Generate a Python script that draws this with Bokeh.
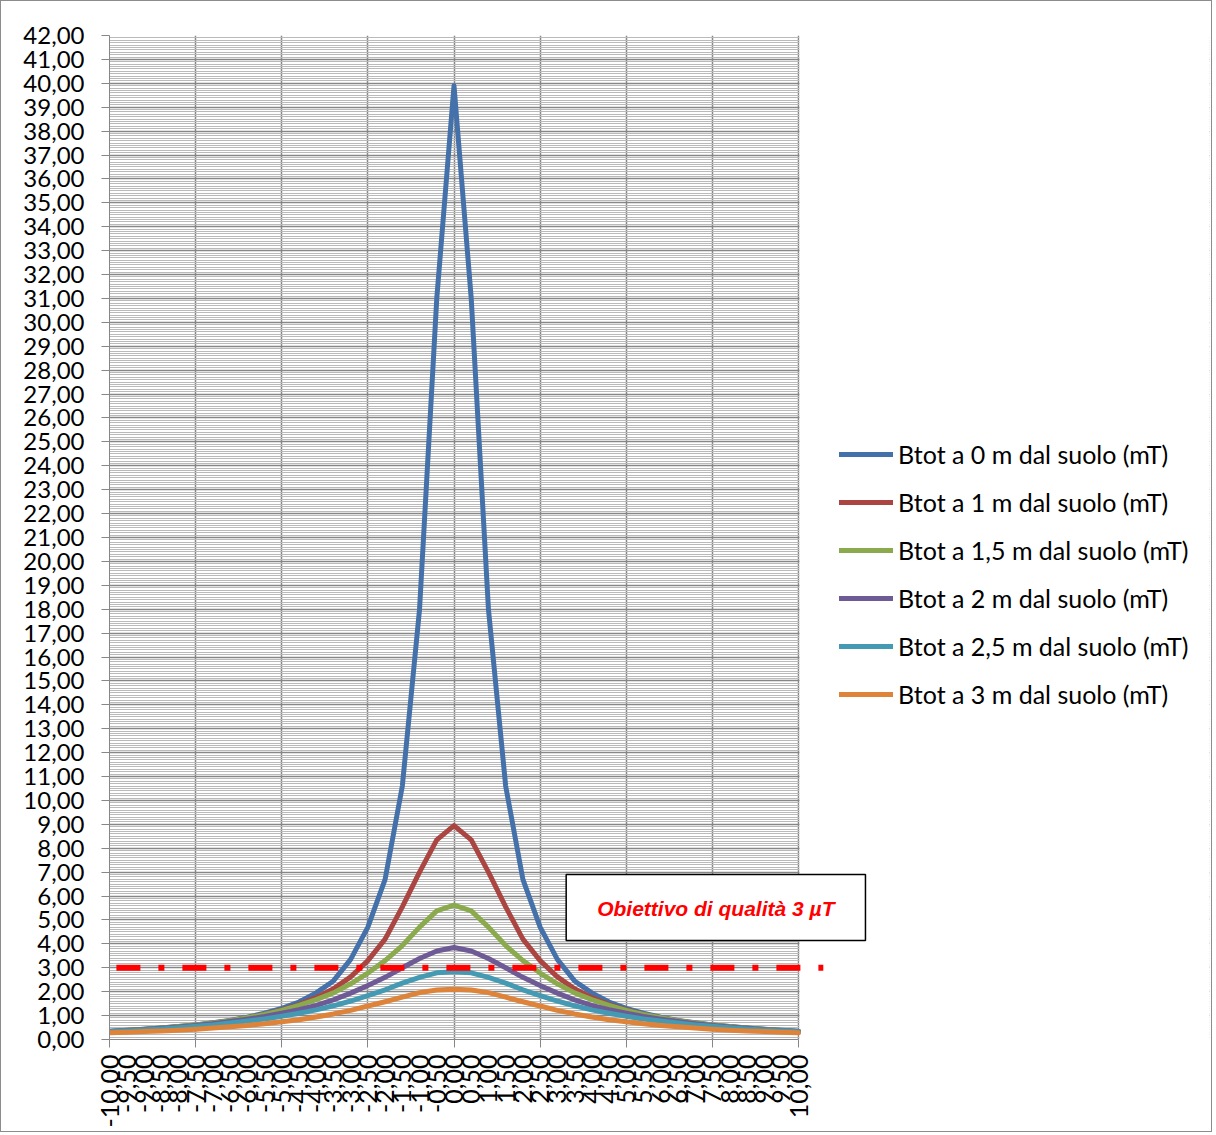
import math
from bokeh.plotting import figure
from bokeh.models import (Range1d, SingleIntervalTicker, FixedTicker, CustomJSTickFormatter,
                          Legend, LegendItem, Label, BoxAnnotation)
from bokeh.embed import file_html
from bokeh.resources import INLINE

# distance from the line axis (m) -- category labels
X = [-10.0, -9.5, -9.0, -8.5, -8.0, -7.5, -7.0, -6.5, -6.0, -5.5, -5.0, -4.5, -4.0, -3.5,
     -3.0, -2.5, -2.0, -1.5, -1.0, -0.5, 0.0, 0.5, 1.0, 1.5, 2.0, 2.5, 3.0, 3.5, 4.0, 4.5,
     5.0, 5.5, 6.0, 6.5, 7.0, 7.5, 8.0, 8.5, 9.0, 9.5, 10.0]

B_0M = [0.35, 0.39, 0.43, 0.48, 0.54, 0.61, 0.70, 0.80, 0.93, 1.10, 1.30, 1.57, 1.95, 2.45,
        3.35, 4.70, 6.70, 10.60, 18.00, 31.00, 39.90, 31.00, 18.00, 10.60, 6.70, 4.70, 3.35,
        2.45, 1.95, 1.57, 1.30, 1.10, 0.93, 0.80, 0.70, 0.61, 0.54, 0.48, 0.43, 0.39, 0.35]
B_1M = [0.34, 0.38, 0.42, 0.47, 0.53, 0.60, 0.68, 0.78, 0.90, 1.05, 1.24, 1.46, 1.75, 2.12,
        2.62, 3.30, 4.20, 5.55, 7.00, 8.35, 8.95, 8.35, 7.00, 5.55, 4.20, 3.30, 2.62, 2.12,
        1.75, 1.46, 1.24, 1.05, 0.90, 0.78, 0.68, 0.60, 0.53, 0.47, 0.42, 0.38, 0.34]
B_15M = [0.34, 0.38, 0.43, 0.48, 0.54, 0.61, 0.69, 0.79, 0.91, 1.05, 1.22, 1.43, 1.67, 1.95,
         2.33, 2.78, 3.30, 3.93, 4.70, 5.38, 5.62, 5.38, 4.70, 3.93, 3.30, 2.78, 2.33, 1.95,
         1.67, 1.43, 1.22, 1.05, 0.91, 0.79, 0.69, 0.61, 0.54, 0.48, 0.43, 0.38, 0.34]
B_2M = [0.33, 0.37, 0.42, 0.47, 0.52, 0.59, 0.66, 0.75, 0.85, 0.96, 1.10, 1.25, 1.43, 1.66,
        1.94, 2.26, 2.60, 3.00, 3.39, 3.70, 3.85, 3.70, 3.39, 3.00, 2.60, 2.26, 1.94, 1.66,
        1.43, 1.25, 1.10, 0.96, 0.85, 0.75, 0.66, 0.59, 0.52, 0.47, 0.42, 0.37, 0.33]
B_25M = [0.32, 0.36, 0.40, 0.44, 0.49, 0.55, 0.61, 0.69, 0.77, 0.86, 0.97, 1.10, 1.24, 1.41,
         1.61, 1.84, 2.08, 2.36, 2.60, 2.79, 2.83, 2.79, 2.60, 2.36, 2.08, 1.84, 1.61, 1.41,
         1.24, 1.10, 0.97, 0.86, 0.77, 0.69, 0.61, 0.55, 0.49, 0.44, 0.40, 0.36, 0.32]
B_3M = [0.28, 0.30, 0.33, 0.36, 0.39, 0.43, 0.48, 0.53, 0.59, 0.66, 0.74, 0.83, 0.94, 1.07,
        1.22, 1.40, 1.58, 1.77, 1.96, 2.07, 2.10, 2.07, 1.96, 1.77, 1.58, 1.40, 1.22, 1.07,
        0.94, 0.83, 0.74, 0.66, 0.59, 0.53, 0.48, 0.43, 0.39, 0.36, 0.33, 0.30, 0.28]

SERIES = [B_0M, B_1M, B_15M, B_2M, B_25M, B_3M]
NAMES = ["Btot a 0 m dal suolo (mT)", "Btot a 1 m dal suolo (mT)", "Btot a 1,5 m dal suolo (mT)",
         "Btot a 2 m dal suolo (mT)", "Btot a 2,5 m dal suolo (mT)", "Btot a 3 m dal suolo (mT)"]
COLORS = ["#4471A9", "#AA4542", "#8BAA4D", "#6E5A95", "#449AB2", "#DD843A"]

QUALITY_TARGET = 3.0
TARGET_LINE_X = [-9.8, 10.72]
TARGET_TEXT = "Obiettivo di qualità 3 µT"
TARGET_POS = (7.6, 5.52)

Y_MAX = 42

FONT = "Lato"
GRID = "#878787"

# layout geometry (pixels)
W, H = 1212, 1132
LEFT, TOP, RIGHT = 108, 34, 4
PLOT_W, PLOT_H = 689, 1004          # width of the -10..10 data area, height of frame
FRAME_W = W - LEFT - RIGHT
px_per_unit = PLOT_W / (X[-1] - X[0])
x_end = X[0] + FRAME_W / px_per_unit

p = figure(width=W, height=H, x_range=Range1d(X[0], x_end), y_range=Range1d(0, Y_MAX),
           output_backend="svg", toolbar_location=None,
           min_border_left=LEFT, min_border_right=RIGHT, min_border_top=TOP,
           min_border_bottom=H - TOP - PLOT_H)
p.outline_line_color = None
p.background_fill_color = "white"
p.border_fill_color = "white"
p.styles = {"border": "1px solid #8c8c8c"}

fmt = CustomJSTickFormatter(code="return tick.toFixed(2).replace('.', ',');")

# y axis
p.yaxis.ticker = SingleIntervalTicker(interval=1, num_minor_ticks=10)
p.yaxis.formatter = fmt
p.yaxis.axis_line_color = GRID
p.yaxis.major_tick_line_color = GRID
p.yaxis.major_tick_out = 8
p.yaxis.major_tick_in = 0
p.yaxis.minor_tick_line_color = None
p.yaxis.major_label_standoff = 17
p.yaxis.major_label_text_font = FONT
p.yaxis.major_label_text_font_size = "24px"
p.yaxis.major_label_text_color = "black"

# x axis
p.xaxis.ticker = FixedTicker(ticks=X, minor_ticks=X[::5])
p.xaxis.formatter = fmt
p.xaxis.bounds = (X[0], X[-1])
p.xaxis.axis_line_color = GRID
p.xaxis.major_tick_line_color = None
p.xaxis.major_tick_out = 0
p.xaxis.major_tick_in = 0
p.xaxis.minor_tick_line_color = GRID
p.xaxis.minor_tick_out = 8
p.xaxis.minor_tick_in = 0
p.xaxis.major_label_orientation = math.pi / 2
p.xaxis.major_label_standoff = 7
p.xaxis.major_label_text_font = FONT
p.xaxis.major_label_text_font_size = "25px"
p.xaxis.major_label_text_color = "black"

# grids
p.xgrid.ticker = FixedTicker(ticks=X[::5])
p.xgrid.grid_line_color = GRID
p.xgrid.grid_line_width = 1.5
p.ygrid.grid_line_color = GRID
p.ygrid.grid_line_width = 1.5
p.ygrid.minor_grid_line_color = "#bababa"
p.ygrid.minor_grid_line_width = 1

# blank area right of the plot area (legend region)
cover = BoxAnnotation(left=X[-1] + 1.0 / px_per_unit, fill_color="white", fill_alpha=1,
                      line_color=None, level="underlay")
p.add_layout(cover)

items = []
for vals, name, col in zip(SERIES, NAMES, COLORS):
    r = p.line(X, vals, line_color=col, line_width=5, line_join="round", line_cap="round")
    items.append(LegendItem(label=name, renderers=[r]))

# quality target line
p.line(TARGET_LINE_X, [QUALITY_TARGET, QUALITY_TARGET], line_color="#FF0000", line_width=6,
       line_dash="24 18 6 18")

legend = Legend(items=items, location=(730, 330), orientation="vertical",
                label_text_font=FONT, label_text_font_size="25px", label_text_color="black",
                glyph_width=54, glyph_height=24, label_height=24, spacing=18,
                label_standoff=5, padding=0, margin=0, border_line_color=None,
                background_fill_alpha=0)
p.add_layout(legend, "center")

lab = Label(x=TARGET_POS[0], y=TARGET_POS[1], text=TARGET_TEXT, text_align="center",
            text_baseline="middle", text_color="#FF0000", text_font="Liberation Sans",
            text_font_size="21px", text_font_style="bold italic",
            background_fill_color="white", border_line_color="black", border_line_width=1.5,
            padding=dict(left=31, right=31, top=22, bottom=21))
p.add_layout(lab)

open("out.html", "w").write(file_html(p, INLINE))
